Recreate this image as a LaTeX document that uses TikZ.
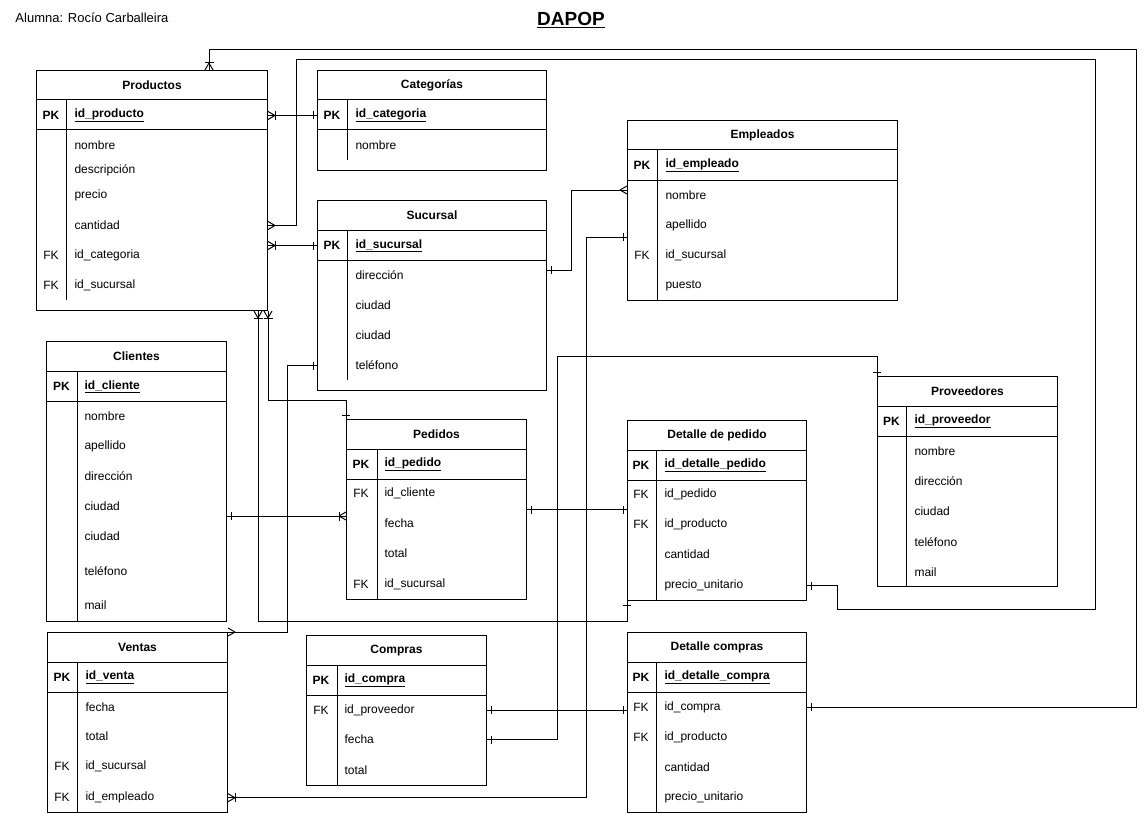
\documentclass[tikz,border=0pt]{standalone}
\usepackage{fontspec}
\setmainfont{Liberation Sans}
\usepackage{tikz}
\usetikzlibrary{calc,decorations.markings}

\begin{document}
\begin{tikzpicture}[x=1pt,y=-1pt,line width=1pt,
  tabla/.style={draw,anchor=north west,inner sep=0pt},
  titulo/.style={font=\fontsize{12}{14}\selectfont\bfseries,inner sep=0pt},
  clave/.style={font=\fontsize{12}{14}\selectfont,inner sep=0pt},
  campo/.style={font=\fontsize{12}{14}\selectfont,anchor=west,inner sep=0pt},
  pk/.style={font=\fontsize{12}{14}\selectfont\bfseries},
  unoA/.style={postaction={decorate,decoration={markings,
      mark=at position 4pt with {\draw (0pt,-4pt) -- (0pt,4pt);}}}},
  unoB/.style={postaction={decorate,decoration={markings,
      mark=at position -4pt with {\draw (0pt,-4pt) -- (0pt,4pt);}}}},
  muchosA/.style={postaction={decorate,decoration={markings,
      mark=at position 0 with {\draw (7pt,0pt) -- (0pt,4pt) (7pt,0pt) -- (0pt,-4pt);}}}},
  muchosB/.style={postaction={decorate,decoration={markings,
      mark=at position 1 with {\draw (-7pt,0pt) -- (0pt,4pt) (-7pt,0pt) -- (0pt,-4pt);}}}},
  unomuchosA/.style={muchosA,postaction={decorate,decoration={markings,
      mark=at position 7pt with {\draw (0pt,-4.5pt) -- (0pt,4.5pt);}}}},
  unomuchosB/.style={muchosB,postaction={decorate,decoration={markings,
      mark=at position -7pt with {\draw (0pt,-4.5pt) -- (0pt,4.5pt);}}}}]
  \useasboundingbox (0,0) rectangle (1147,813);

  %% Encabezado
  \node[anchor=west,inner sep=0pt,font=\fontsize{13}{15}\selectfont] (ALUMNA) at (15,18) {Alumna: Rocío Carballeira};
  \node[inner sep=0pt,font=\fontsize{19}{22}\selectfont\bfseries] (DAPOP) at (571,20) {\underline{DAPOP}};

  %% Productos
  \node[tabla,minimum width=231,minimum height=240] (PROD) at (36,70) {};
  \node[titulo] (PRODt) at ($(PROD.north)+(0,15.5)$) {Productos};
  \draw (36,100) -- (267,100) (36,130) -- (267,130) (66,100) -- (66,300);
  \node[clave,pk] (PRODk0) at (51,115.5) {PK};
  \node[campo,pk] (PROD0) at (74,115.5) {\underline{id\_producto}};
  \foreach \k/\f/\y [count=\i] in {/nombre/145.5,/descripción/170.5,/precio/195.5,/cantidad/225.5,FK/id\_categoria/255.5,FK/id\_sucursal/285.5}
  {
    \node[clave] (PRODk\i) at (51,\y) {\k};
    \node[campo] (PROD\i) at (74,\y) {\f};
  }

  %% Categorias
  \node[tabla,minimum width=229,minimum height=100] (CATE) at (317,70) {};
  \node[titulo] (CATEt) at ($(CATE.north)+(0,15.5)$) {Categorías};
  \draw (317,100) -- (546,100) (317,130) -- (546,130) (347,100) -- (347,160);
  \node[clave,pk] (CATEk0) at (332,115.5) {PK};
  \node[campo,pk] (CATE0) at (355,115.5) {\underline{id\_categoria}};
  \foreach \k/\f/\y [count=\i] in {/nombre/145.5}
  {
    \node[clave] (CATEk\i) at (332,\y) {\k};
    \node[campo] (CATE\i) at (355,\y) {\f};
  }

  %% Sucursal
  \node[tabla,minimum width=229,minimum height=190] (SUCU) at (317,200) {};
  \node[titulo] (SUCUt) at ($(SUCU.north)+(0,15.5)$) {Sucursal};
  \draw (317,230) -- (546,230) (317,260) -- (546,260) (347,230) -- (347,380);
  \node[clave,pk] (SUCUk0) at (332,245.5) {PK};
  \node[campo,pk] (SUCU0) at (355,245.5) {\underline{id\_sucursal}};
  \foreach \k/\f/\y [count=\i] in {/dirección/275.5,/ciudad/305.5,/ciudad/335.5,/teléfono/365.5}
  {
    \node[clave] (SUCUk\i) at (332,\y) {\k};
    \node[campo] (SUCU\i) at (355,\y) {\f};
  }

  %% Empleados
  \node[tabla,minimum width=270,minimum height=180] (EMPL) at (627,120) {};
  \node[titulo] (EMPLt) at ($(EMPL.north)+(0,15.5)$) {Empleados};
  \draw (627,150) -- (897,150) (627,180) -- (897,180) (657,150) -- (657,300);
  \node[clave,pk] (EMPLk0) at (642,165.5) {PK};
  \node[campo,pk] (EMPL0) at (665,165.5) {\underline{id\_empleado}};
  \foreach \k/\f/\y [count=\i] in {/nombre/195,/apellido/225,FK/id\_sucursal/255,/puesto/285.5}
  {
    \node[clave] (EMPLk\i) at (642,\y) {\k};
    \node[campo] (EMPL\i) at (665,\y) {\f};
  }

  %% Clientes
  \node[tabla,minimum width=180,minimum height=280] (CLIE) at (46,341) {};
  \node[titulo] (CLIEt) at ($(CLIE.north)+(0,15.5)$) {Clientes};
  \draw (46,371) -- (226,371) (46,401) -- (226,401) (77,371) -- (77,621);
  \node[clave,pk] (CLIEk0) at (61.5,386.5) {PK};
  \node[campo,pk] (CLIE0) at (84,386.5) {\underline{id\_cliente}};
  \foreach \k/\f/\y [count=\i] in {/nombre/416,/apellido/446,/dirección/476.5,/ciudad/506.5,/ciudad/536.5,/teléfono/571.5,/mail/605.5}
  {
    \node[clave] (CLIEk\i) at (61.5,\y) {\k};
    \node[campo] (CLIE\i) at (84,\y) {\f};
  }

  %% Pedidos
  \node[tabla,minimum width=180,minimum height=180] (PEDI) at (346,419) {};
  \node[titulo] (PEDIt) at ($(PEDI.north)+(0,15.5)$) {Pedidos};
  \draw (346,449) -- (526,449) (346,479) -- (526,479) (377,449) -- (377,599);
  \node[clave,pk] (PEDIk0) at (361,464) {PK};
  \node[campo,pk] (PEDI0) at (384,464) {\underline{id\_pedido}};
  \foreach \k/\f/\y [count=\i] in {FK/id\_cliente/493.7,/fecha/523.7,/total/553.7,FK/id\_sucursal/584.7}
  {
    \node[clave] (PEDIk\i) at (361,\y) {\k};
    \node[campo] (PEDI\i) at (384,\y) {\f};
  }

  %% Detalle de pedido
  \node[tabla,minimum width=179,minimum height=180] (DPED) at (627,420) {};
  \node[titulo] (DPEDt) at ($(DPED.north)+(0,15.5)$) {Detalle de pedido};
  \draw (627,450) -- (806,450) (627,480) -- (806,480) (656,450) -- (656,600);
  \node[clave,pk] (DPEDk0) at (641,465) {PK};
  \node[campo,pk] (DPED0) at (664,465) {\underline{id\_detalle\_pedido}};
  \foreach \k/\f/\y [count=\i] in {FK/id\_pedido/494.7,FK/id\_producto/524.7,/cantidad/554.7,/precio\_unitario/585.7}
  {
    \node[clave] (DPEDk\i) at (641,\y) {\k};
    \node[campo] (DPED\i) at (664,\y) {\f};
  }

  %% Proveedores
  \node[tabla,minimum width=180,minimum height=210] (PROV) at (877,376) {};
  \node[titulo] (PROVt) at ($(PROV.north)+(0,15.5)$) {Proveedores};
  \draw (877,406) -- (1057,406) (877,436) -- (1057,436) (906,406) -- (906,586);
  \node[clave,pk] (PROVk0) at (891.5,421) {PK};
  \node[campo,pk] (PROV0) at (914,421) {\underline{id\_proveedor}};
  \foreach \k/\f/\y [count=\i] in {/nombre/451,/dirección/481,/ciudad/511,/teléfono/542,/mail/572}
  {
    \node[clave] (PROVk\i) at (891.5,\y) {\k};
    \node[campo] (PROV\i) at (914,\y) {\f};
  }

  %% Ventas
  \node[tabla,minimum width=180,minimum height=180] (VENT) at (47,632) {};
  \node[titulo] (VENTt) at ($(VENT.north)+(0,15.5)$) {Ventas};
  \draw (47,662) -- (227,662) (47,692) -- (227,692) (77,662) -- (77,812);
  \node[clave,pk] (VENTk0) at (62,677.3) {PK};
  \node[campo,pk] (VENT0) at (85,677.3) {\underline{id\_venta}};
  \foreach \k/\f/\y [count=\i] in {/fecha/707.3,/total/736.7,FK/id\_sucursal/766.7,FK/id\_empleado/797.7}
  {
    \node[clave] (VENTk\i) at (62,\y) {\k};
    \node[campo] (VENT\i) at (85,\y) {\f};
  }

  %% Compras
  \node[tabla,minimum width=180,minimum height=150] (COMP) at (306,635) {};
  \node[titulo] (COMPt) at ($(COMP.north)+(0,15.5)$) {Compras};
  \draw (306,665) -- (486,665) (306,695) -- (486,695) (337,665) -- (337,785);
  \node[clave,pk] (COMPk0) at (321,680.5) {PK};
  \node[campo,pk] (COMP0) at (344,680.5) {\underline{id\_compra}};
  \foreach \k/\f/\y [count=\i] in {FK/id\_proveedor/710,/fecha/739.5,/total/770}
  {
    \node[clave] (COMPk\i) at (321,\y) {\k};
    \node[campo] (COMP\i) at (344,\y) {\f};
  }

  %% Detalle compras
  \node[tabla,minimum width=179,minimum height=180] (DCOM) at (627,632) {};
  \node[titulo] (DCOMt) at ($(DCOM.north)+(0,15.5)$) {Detalle compras};
  \draw (627,662) -- (806,662) (627,692) -- (806,692) (656,662) -- (656,812);
  \node[clave,pk] (DCOMk0) at (641,677) {PK};
  \node[campo,pk] (DCOM0) at (664,677) {\underline{id\_detalle\_compra}};
  \foreach \k/\f/\y [count=\i] in {FK/id\_compra/707,FK/id\_producto/737,/cantidad/767,/precio\_unitario/797.7}
  {
    \node[clave] (DCOMk\i) at (641,\y) {\k};
    \node[campo] (DCOM\i) at (664,\y) {\f};
  }

  %% Relaciones
  \coordinate (R1) at (1136,50);
  \coordinate (R2) at (296,60);
  \coordinate (R3) at (1095,609.5);
  \coordinate (CP) at ($(CLIE.north east)+(0,175)$);
  \draw[unomuchosA,unoB] ($(PROD.north west)+(173,0)$) |- (R1) |- (DCOM1 -| DCOM.east);
  \draw[muchosA,unoB] (PROD.east |- PROD4) -| (R2) -| (R3) -| ($(DPED4 -| DPED.east)+(30,0)$) -- (DPED4 -| DPED.east);
  \draw[unomuchosA,unoB] (PROD.east |- PROD0) -- (CATE.west |- CATE0);
  \draw[unomuchosA,unoB] (PROD.east |- SUCU0) -- (SUCU.west |- SUCU0);
  \draw[unoA,muchosB] ($(SUCU.north east)+(0,70)$) -| ($(EMPL.north west)+(-56,70)$) -- ($(EMPL.north west)+(0,70)$);
  \draw[unoA,unomuchosB] ($(EMPL.north west)+(0,117)$) -- ++(-41,0) |- (VENT4 -| VENT.east);
  \draw[unomuchosA,unoB] ($(PROD.south east)+(-10,0)$) |- ($(DPED.south west)+(0,20)$) -- (DPED.south west);
  \draw[unomuchosA,unoB] (PROD.south east) |- ($(PEDI.north west)+(0,-19)$) -- (PEDI.north west);
  \draw[unoA,unomuchosB] (CP) -- (CP -| PEDI.west);
  \draw[unoA,unoB] (PEDI.east) -- (PEDI.east -| DPED.west);
  \draw[unoA,muchosB] (SUCU.west |- SUCU4) -- ++(-30,0) |- (VENT.north east);
  \draw[unoA,unoB] (PROV.north west) -- ++(0,-20) -| ($(COMP2 -| COMP.east)+(70,0)$) -- (COMP2 -| COMP.east);
  \draw[unoA,unoB] (COMP1 -| COMP.east) -- (COMP1 -| DCOM.west);

\end{tikzpicture}
\end{document}
